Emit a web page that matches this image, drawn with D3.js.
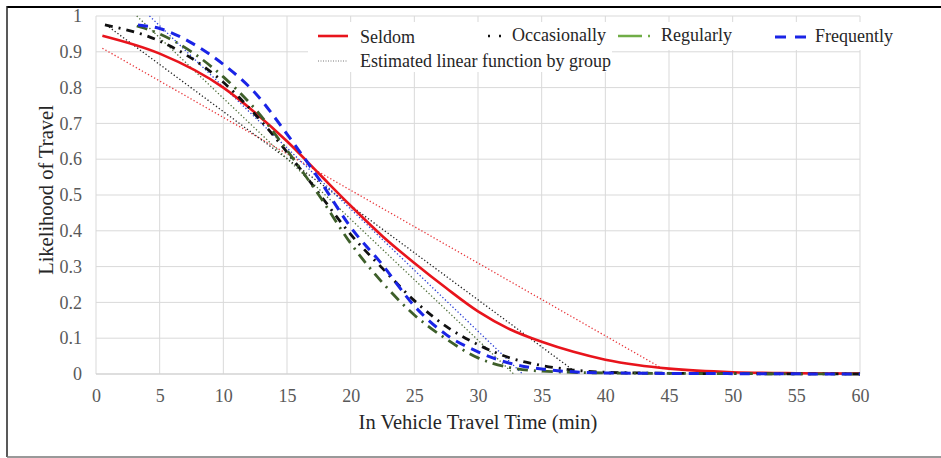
<!DOCTYPE html>
<meta charset="utf-8">
<html>
  <head>
	<script src="https://cdnjs.cloudflare.com/ajax/libs/d3/7.8.5/d3.min.js"></script>
	<style>
		body { margin: 0; background: #fff; }
		text { font-family: "Liberation Serif", "Times New Roman", serif; }
	</style>
  </head>
<body>
	<div id='chart'></div>
</body>
<script>

// x ticks and y ticks
var xTicks = [0, 5, 10, 15, 20, 25, 30, 35, 40, 45, 50, 55, 60];
var yTicks = [0, 0.1, 0.2, 0.3, 0.4, 0.5, 0.6, 0.7, 0.8, 0.9, 1];
var yTickLabels = ["0", "0.1", "0.2", "0.3", "0.4", "0.5", "0.6", "0.7", "0.8", "0.9", "1"];

// curves: [time, likelihood]
var seldom = [[0.5,0.945],[5,0.895],[10,0.80],[12.5,0.73],[15,0.65],[17.5,0.56],[20,0.47],[22.5,0.385],[25,0.31],[27.5,0.24],[30,0.175],[32.5,0.125],[35,0.09],[37.5,0.062],[40,0.04],[42.5,0.025],[45,0.015],[50,0.005],[55,0.002],[60,0.001]];
var occasionally = [[0.7,0.975],[5,0.93],[10,0.815],[12.5,0.725],[15,0.62],[17.5,0.505],[20,0.39],[22.5,0.295],[25,0.205],[27.5,0.133],[30,0.082],[32.5,0.045],[35,0.024],[37.5,0.011],[40,0.005],[45,0.002],[50,0.001],[60,0]];
var regularly = [[3.2,0.972],[5,0.95],[7.5,0.90],[10,0.83],[12.5,0.74],[15,0.625],[17.5,0.50],[20,0.365],[22.5,0.255],[25,0.165],[27.5,0.098],[30,0.045],[32.5,0.018],[35,0.008],[40,0.003],[50,0.001],[60,0]];
var frequently = [[3.3,0.975],[5,0.965],[7.5,0.925],[10,0.865],[12.5,0.785],[15,0.67],[17.5,0.545],[20,0.41],[22.5,0.305],[25,0.19],[27.5,0.11],[30,0.062],[32.5,0.03],[35,0.014],[37.5,0.006],[40,0.003],[50,0.001],[60,0]];

// estimated linear functions (start and end points)
var linSeldom = [[0.5,0.91],[44.5,0.015]];
var linOccasionally = [[0.8,0.975],[37.5,0.01]];
var linRegularly = [[3.2,1.0],[32.8,0]];
var linFrequently = [[4.2,1.0],[33.5,0]];

var legendNames = ["Seldom", "Occasionally", "Regularly", "Frequently", "Estimated linear function by group"];

var drawGraph = function(){

	const width = 941;
	const height = 458;
	var serif = "Liberation Serif, Times New Roman, serif";

	var svg = d3.select('#chart')
		.append('svg')
		.attr("width", width)
		.attr("height", height);

	//frame round the picture
	svg.append("line").attr("x1", 7).attr("x2", width).attr("y1", 7).attr("y2", 7)
		.style("stroke", "#000").style("stroke-width", 2);
	svg.append("line").attr("x1", 7).attr("x2", 7).attr("y1", 6).attr("y2", 457)
		.style("stroke", "#222").style("stroke-width", 1.5);
	svg.append("line").attr("x1", 7).attr("x2", width).attr("y1", 457).attr("y2", 457)
		.style("stroke", "#777").style("stroke-width", 1.5);

	var x = d3.scaleLinear().domain([0, 60]).range([96, 860]);
	var y = d3.scaleLinear().domain([0, 1]).range([374, 16]);

	//grid
	svg.append("g").selectAll("line").data(xTicks).enter().append("line")
		.attr("x1", d => x(d)).attr("x2", d => x(d))
		.attr("y1", y(0)).attr("y2", y(1))
		.style("stroke", "#d9d9d9").style("stroke-width", 1);
	svg.append("g").selectAll("line").data(yTicks).enter().append("line")
		.attr("x1", x(0)).attr("x2", x(60))
		.attr("y1", d => y(d)).attr("y2", d => y(d))
		.style("stroke", "#d9d9d9").style("stroke-width", 1);

	//axes, tick labels only
	var xAxis = svg.append("g")
		.attr("transform", "translate(0," + y(0) + ")")
		.call(d3.axisBottom(x).tickValues(xTicks).tickSize(0).tickPadding(15));
	var yAxis = svg.append("g")
		.attr("transform", "translate(" + x(0) + ",0)")
		.call(d3.axisLeft(y).tickValues(yTicks).tickSize(0).tickPadding(14)
			.tickFormat((d, i) => yTickLabels[i]));
	[xAxis, yAxis].forEach(function(a){
		a.attr("font-family", serif).attr("font-size", 18);
		a.select(".domain").remove();
		a.selectAll("text")
			.style("font-family", serif)
			.style("font-size", "18px")
			.style("fill", "#595959");
	});
	xAxis.append("line").attr("x1", x(0)).attr("x2", x(60))
		.style("stroke", "#d0d0d0").style("stroke-width", 1.2);

	//axis titles
	svg.append("text")
		.attr("x", 478).attr("y", 429)
		.attr("text-anchor", "middle")
		.style("font-size", "20.5px").style("fill", "#262626")
		.text("In Vehicle Travel Time (min)");
	svg.append("text")
		.attr("transform", "translate(53,190) rotate(-90)")
		.attr("text-anchor", "middle")
		.style("font-size", "20.5px").style("fill", "#262626")
		.text("Likelihood of Travel");

	var line = d3.line().x(d => x(d[0])).y(d => y(d[1])).curve(d3.curveMonotoneX);

	//linear estimates, thin dotted
	var linears = [
		{data: linSeldom, color: "#e8363a"},
		{data: linOccasionally, color: "#222"},
		{data: linRegularly, color: "#4f6f3a"},
		{data: linFrequently, color: "#2a3fd6"}
	];
	linears.forEach(function(l){
		svg.append("path").datum(l.data)
			.attr("d", d3.line().x(d => x(d[0])).y(d => y(d[1])))
			.style("fill", "none").style("stroke", l.color)
			.style("stroke-width", 1.3).style("stroke-dasharray", "1.3,2.2");
	});

	//fitted curves
	var curves = [
		{data: seldom, color: "#e8141c", width: 2.6, dash: null},
		{data: occasionally, color: "#111", width: 2.8, dash: "8,6,2,6"},
		{data: regularly, color: "#3e5f2a", width: 2.8, dash: "11,6,2,6"},
		{data: frequently, color: "#1a24e6", width: 3, dash: "10,7"}
	];
	curves.forEach(function(c){
		svg.append("path").datum(c.data)
			.attr("d", line)
			.style("fill", "none").style("stroke", c.color)
			.style("stroke-width", c.width)
			.style("stroke-dasharray", c.dash);
	});

	//legend background
	svg.append("rect").attr("x", 308).attr("y", 22).attr("width", 592).attr("height", 28).style("fill", "#fff");
	svg.append("rect").attr("x", 308).attr("y", 48).attr("width", 304).attr("height", 24).style("fill", "#fff");

	var lg = svg.append("g").style("font-size", "18px").style("fill", "#262626");
	//Seldom
	lg.append("line").attr("x1", 318).attr("x2", 348).attr("y1", 36).attr("y2", 36)
		.style("stroke", "#e8141c").style("stroke-width", 2.6);
	lg.append("text").attr("x", 360).attr("y", 43).text(legendNames[0]);
	//Occasionally
	lg.append("line").attr("x1", 488).attr("x2", 502).attr("y1", 36).attr("y2", 36)
		.style("stroke", "#111").style("stroke-width", 2.6).style("stroke-dasharray", "2,9");
	lg.append("text").attr("x", 512).attr("y", 41).text(legendNames[1]);
	//Regularly
	lg.append("line").attr("x1", 618).attr("x2", 656).attr("y1", 36).attr("y2", 36)
		.style("stroke", "#70ad47").style("stroke-width", 2.6).style("stroke-dasharray", "24,6,2,20");
	lg.append("text").attr("x", 661).attr("y", 41).text(legendNames[2]);
	//Frequently
	lg.append("line").attr("x1", 775).attr("x2", 806).attr("y1", 37).attr("y2", 37)
		.style("stroke", "#1a24e6").style("stroke-width", 3).style("stroke-dasharray", "11,9");
	lg.append("text").attr("x", 815).attr("y", 42).text(legendNames[3]);
	//Linear
	lg.append("line").attr("x1", 318).attr("x2", 348).attr("y1", 61).attr("y2", 61)
		.style("stroke", "#777").style("stroke-width", 1).style("stroke-dasharray", "1,1.5");
	lg.append("text").attr("x", 360).attr("y", 67).text(legendNames[4]);
}

	drawGraph();

</script>
</html>
